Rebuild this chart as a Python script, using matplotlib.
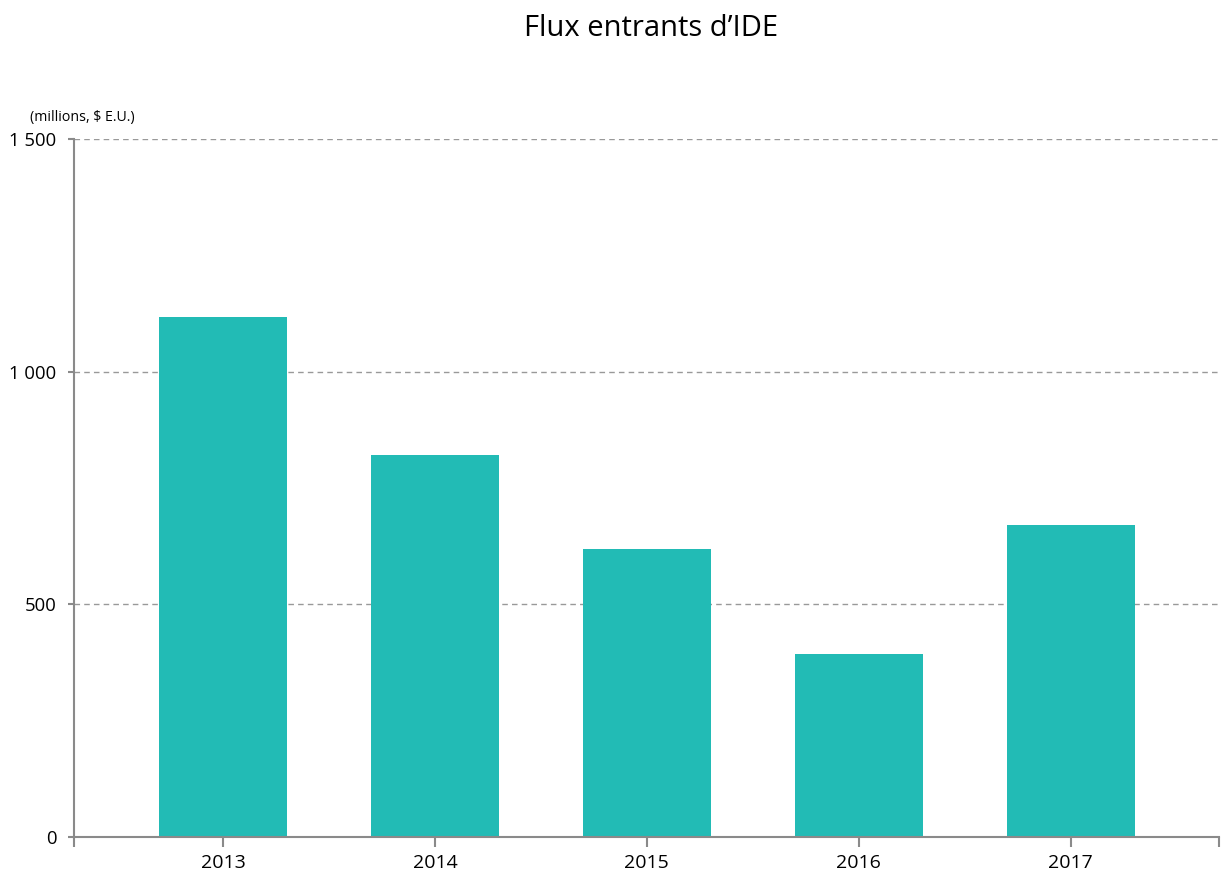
import matplotlib
matplotlib.use("Agg")
import matplotlib.pyplot as plt

years = ["2013", "2014", "2015", "2016", "2017"]
values = [1117, 820, 619, 393, 670]
yticks = [0, 500, 1000, 1500]
ytick_labels = ["0", "500", "1 000", "1 500"]

plt.rcParams['font.family'] = ['Open Sans', 'DejaVu Sans']

fig = plt.figure(figsize=(12.21, 8.74), dpi=100)
ax = fig.add_axes([74/1221, 1-837/874, (1219-74)/1221, (837-139)/874])

x = list(range(len(years)))
ax.bar(x, values, width=0.604, color="#22BBB5", zorder=3)

ax.set_ylim(0, 1500)
left, right = -0.703, 4.7
ax.set_xlim(left, right)

ax.set_yticks(yticks)
ax.set_yticklabels(ytick_labels, fontsize=13.3)
ax.set_xticks([left] + x + [right])
ax.set_xticklabels([""] + years + [""], fontsize=14)

for s in ["top", "right"]:
    ax.spines[s].set_visible(False)
for s in ["left", "bottom"]:
    ax.spines[s].set_color("#8a8a8a")
    ax.spines[s].set_linewidth(1.5)

ax.tick_params(axis="x", length=7, width=1.5, color="#8a8a8a", pad=5)
ax.tick_params(axis="y", length=4.5, width=1.5, color="#8a8a8a", pad=8)
ax.spines["bottom"].set_zorder(4)

ax.yaxis.grid(True, linestyle=(0, (4, 3)), color="#999999", linewidth=1)
ax.set_axisbelow(True)

fig.text(30/1221, 1-117/874, "(millions, $ E.U.)", fontsize=10.2, ha="left", va="center")
fig.text(651/1221, 1-28/874, "Flux entrants d’IDE", fontsize=21, ha="center", va="center")

fig.savefig("out.png", dpi=100)
